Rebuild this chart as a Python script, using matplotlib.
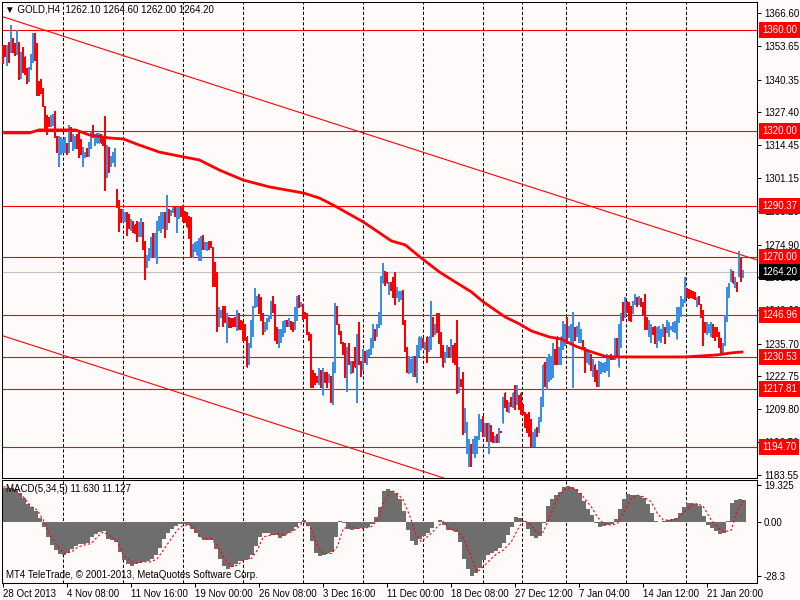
import numpy as np
import matplotlib
matplotlib.use('Agg')
import matplotlib.pyplot as plt
import matplotlib.transforms as mtransforms

plt.rcParams['font.family'] = ['Liberation Sans', 'DejaVu Sans']
plt.rcParams['font.size'] = 7

# GOLD H4 bars (one per 4 hours), high / low
highs = [
    1353.7, 1353.7, 1353.7, 1354.9, 1361.6, 1356.8, 1354.5, 1360.0, 1354.9, 1350.9,
    1352.9, 1349.3, 1344.9, 1345.3, 1350.1, 1358.8, 1358.8, 1354.5, 1339.4, 1340.2,
    1337.0, 1329.5, 1326.3, 1325.5, 1326.3, 1326.7, 1327.5, 1317.6, 1317.6, 1317.2,
    1316.4, 1317.2, 1315.2, 1322.3, 1321.2, 1318.4, 1317.6, 1318.4, 1319.2, 1316.4,
    1313.6, 1311.6, 1313.2, 1315.6, 1319.2, 1322.0, 1318.4, 1318.8, 1318.8, 1318.4,
    1317.6, 1325.9, 1314.4, 1313.6, 1309.7, 1311.3, 1313.2, 1296.6, 1292.6, 1288.7,
    1288.7, 1287.5, 1287.5, 1286.7, 1284.7, 1283.9, 1282.7, 1283.9, 1283.5, 1285.1,
    1283.5, 1276.0, 1270.8, 1273.2, 1277.6, 1279.5, 1279.5, 1283.9, 1285.9, 1287.5,
    1287.5, 1287.5, 1294.2, 1288.7, 1288.3, 1289.8, 1289.8, 1289.8, 1289.8, 1289.8,
    1290.6, 1287.9, 1287.5, 1285.9,
    1285.5, 1274.8, 1275.6, 1276.0, 1277.2, 1278.0, 1278.7, 1275.6, 1275.6, 1276.0,
    1276.0, 1273.6, 1268.0, 1263.7, 1249.8, 1249.0, 1250.2, 1250.2, 1247.8, 1246.2,
    1245.8, 1245.8, 1246.2, 1249.0, 1247.8, 1245.0, 1244.3, 1243.1, 1238.3, 1235.9,
    1245.0, 1250.2, 1257.7, 1254.2, 1255.0, 1253.8, 1247.8, 1243.9, 1245.8, 1247.0,
    1252.2, 1254.2, 1251.0, 1241.9, 1241.1, 1241.1, 1244.3, 1245.0, 1245.0, 1245.8,
    1244.3, 1243.9, 1249.8, 1254.2, 1254.6, 1251.8, 1251.0, 1248.2, 1247.8, 1239.9,
    1239.1, 1225.2, 1224.0, 1222.5, 1226.0, 1225.2, 1226.0, 1224.4, 1224.4, 1223.3,
    1222.5, 1228.0, 1251.4, 1250.2, 1243.1, 1240.3, 1236.3, 1235.9, 1234.3, 1235.9,
    1228.4, 1228.4, 1234.0, 1239.1, 1243.9, 1228.4, 1233.2, 1232.4, 1232.8, 1233.2,
    1237.9, 1243.1,
    1241.1, 1243.1, 1248.2, 1262.1, 1267.6, 1264.1, 1263.7, 1260.1, 1260.1, 1261.7,
    1263.7, 1258.1, 1256.2, 1256.2, 1256.9, 1245.0, 1234.0, 1230.4, 1229.2, 1230.4,
    1230.4, 1235.1, 1238.3, 1238.3, 1237.9, 1236.3, 1238.3, 1238.3, 1252.2, 1246.2,
    1243.1, 1247.8, 1247.8, 1239.9, 1235.1, 1232.0, 1235.1, 1234.0, 1237.5, 1235.1,
    1235.9, 1245.0, 1226.4, 1221.3, 1224.4, 1209.8, 1204.6, 1197.5, 1195.5, 1197.5,
    1198.7, 1198.7, 1207.4, 1205.4, 1206.6, 1204.2, 1204.2, 1204.2, 1203.4, 1200.3,
    1198.7, 1199.5, 1202.2, 1200.7, 1214.5, 1216.1, 1213.3, 1212.2, 1214.5, 1216.1,
    1218.9, 1218.9, 1215.3, 1216.1, 1211.4, 1208.2, 1207.4, 1208.2, 1205.4, 1200.3,
    1201.5, 1202.6, 1206.2, 1214.5, 1227.2, 1228.0, 1230.0, 1231.2, 1230.4, 1235.9,
    1233.2, 1238.3, 1234.3, 1238.3,
    1244.3, 1243.1, 1246.2, 1242.3, 1243.1, 1248.2, 1241.9, 1242.3, 1243.9, 1241.1,
    1237.1, 1234.0, 1233.2, 1232.4, 1231.2, 1229.2, 1227.2, 1225.2, 1228.4, 1228.0,
    1227.6, 1228.0, 1231.2, 1230.8, 1231.2, 1230.4, 1237.9, 1237.9, 1243.1, 1247.8,
    1251.8, 1253.8, 1252.2, 1251.8, 1250.2, 1252.2, 1255.0, 1253.8, 1254.2, 1253.4,
    1251.8, 1255.0, 1246.2, 1245.0, 1243.1, 1241.9, 1242.3, 1241.9, 1242.3, 1241.1,
    1243.1, 1241.9, 1245.0, 1243.9, 1242.3, 1243.9, 1244.3, 1249.8, 1249.8, 1254.2,
    1253.0, 1261.7, 1257.7, 1257.3, 1256.9, 1256.2, 1255.8, 1253.8, 1254.2, 1251.0,
    1249.0, 1243.9, 1243.9, 1243.1, 1243.9, 1243.1, 1241.9, 1241.9, 1239.9, 1237.9,
    1235.9, 1247.0, 1258.1, 1259.7, 1264.9, 1264.1, 1261.7, 1260.1, 1272.0, 1270.0,
    1264.6,
]
lows = [
    1346.9, 1349.3, 1346.1, 1347.3, 1350.9, 1350.9, 1349.7, 1350.1, 1340.2, 1340.6,
    1343.0, 1342.2, 1338.6, 1339.4, 1344.2, 1347.3, 1348.1, 1334.2, 1334.2, 1335.0,
    1329.5, 1320.4, 1318.4, 1321.6, 1321.6, 1322.3, 1317.2, 1311.6, 1305.7, 1310.5,
    1311.3, 1311.6, 1310.5, 1311.6, 1315.6, 1312.4, 1313.2, 1313.2, 1309.3, 1310.5,
    1305.7, 1309.3, 1309.7, 1309.7, 1313.2, 1317.2, 1314.4, 1315.2, 1315.2, 1315.2,
    1314.4, 1296.2, 1301.7, 1303.7, 1305.7, 1307.3, 1305.7, 1289.8, 1280.3, 1283.5,
    1283.9, 1283.9, 1278.7, 1281.5, 1280.7, 1279.9, 1279.5, 1276.0, 1278.0, 1278.0,
    1272.8, 1260.9, 1265.7, 1268.8, 1270.0, 1270.0, 1270.0, 1267.6, 1280.7, 1279.9,
    1281.5, 1277.6, 1281.1, 1283.5, 1286.3, 1287.5, 1285.9, 1279.9, 1285.1, 1285.9,
    1283.9, 1283.5, 1281.9, 1277.2,
    1270.0, 1270.0, 1272.0, 1270.8, 1268.8, 1268.8, 1272.8, 1272.8, 1272.4, 1272.8,
    1273.6, 1258.5, 1258.5, 1240.3, 1242.3, 1246.2, 1242.3, 1243.9, 1236.3, 1241.9,
    1241.9, 1242.3, 1242.3, 1240.7, 1241.1, 1241.1, 1237.1, 1237.1, 1226.4, 1227.2,
    1234.0, 1238.3, 1249.8, 1250.2, 1247.8, 1245.0, 1239.1, 1240.3, 1241.1, 1244.3,
    1245.8, 1248.2, 1237.1, 1235.9, 1234.3, 1236.3, 1238.3, 1239.9, 1242.3, 1242.3,
    1241.1, 1240.3, 1241.1, 1245.0, 1249.8, 1250.2, 1245.4, 1245.8, 1239.1, 1237.1,
    1218.1, 1218.1, 1219.3, 1220.1, 1219.3, 1218.1, 1215.3, 1220.1, 1218.1, 1220.1,
    1212.2, 1211.4, 1224.4, 1243.1, 1239.1, 1235.9, 1231.2, 1222.1, 1216.5, 1227.2,
    1224.0, 1224.4, 1226.4, 1212.5, 1227.2, 1222.5, 1225.2, 1228.0, 1227.2, 1230.4,
    1231.2, 1234.3,
    1237.1, 1238.3, 1241.9, 1243.1, 1259.7, 1258.9, 1259.7, 1255.0, 1256.9, 1253.8,
    1251.0, 1253.8, 1252.2, 1253.0, 1243.1, 1232.4, 1224.4, 1224.0, 1224.4, 1222.5,
    1222.5, 1220.1, 1230.4, 1233.2, 1234.0, 1233.2, 1228.0, 1232.4, 1233.2, 1238.3,
    1239.1, 1239.9, 1235.9, 1230.0, 1226.4, 1228.0, 1230.0, 1230.0, 1230.0, 1228.0,
    1227.2, 1215.7, 1216.1, 1218.5, 1199.5, 1200.3, 1192.3, 1186.8, 1186.8, 1192.3,
    1190.7, 1192.3, 1197.5, 1200.7, 1198.7, 1198.7, 1196.7, 1192.3, 1196.7, 1196.3,
    1196.3, 1196.3, 1196.3, 1200.3, 1204.2, 1210.2, 1208.6, 1208.2, 1210.6, 1210.2,
    1209.4, 1211.4, 1209.4, 1207.4, 1207.4, 1202.6, 1200.3, 1198.7, 1194.7, 1194.7,
    1194.7, 1198.7, 1200.3, 1204.6, 1210.6, 1218.5, 1217.3, 1220.5, 1221.3, 1222.1,
    1227.2, 1227.2, 1227.2, 1227.2,
    1233.2, 1235.1, 1235.9, 1237.9, 1236.3, 1218.1, 1237.1, 1238.3, 1236.3, 1236.3,
    1233.2, 1224.4, 1228.0, 1227.2, 1225.2, 1222.5, 1220.5, 1218.5, 1218.5, 1224.0,
    1224.8, 1224.4, 1225.2, 1222.5, 1229.2, 1229.2, 1229.2, 1230.4, 1226.4, 1234.0,
    1245.0, 1246.2, 1248.2, 1245.0, 1244.3, 1247.8, 1251.0, 1250.2, 1251.0, 1250.2,
    1247.0, 1241.1, 1241.1, 1238.3, 1236.3, 1239.1, 1235.9, 1234.0, 1237.1, 1236.3,
    1238.3, 1235.9, 1239.9, 1238.3, 1241.1, 1240.3, 1239.9, 1237.5, 1243.9, 1246.6,
    1250.2, 1251.8, 1253.8, 1253.4, 1253.8, 1253.4, 1253.0, 1250.2, 1251.0, 1246.2,
    1235.1, 1239.9, 1239.1, 1239.9, 1238.3, 1237.9, 1237.1, 1238.3, 1234.3, 1232.0,
    1231.2, 1235.1, 1244.3, 1253.8, 1260.1, 1259.7, 1258.1, 1256.2, 1262.1, 1260.1,
    1262.0,
]
# r = bear bar, b = bull bar
bar_dir = (
    "rrbrbrrbrb" "rrrbbbrrrr" "rrrrbbrrbb" "bbrbrbbrrr" "bbrbbrbbbr"
    "rrbrbbbrrr" "bbrrbrrrbb" "rrbbbrbbbb" "brbrbbrbbr" "rrrr"
    "rbbbbbrbbr" "rrrrbbrrbr" "rrrbrrrrrb" "bbbbrrrbbb" "brrrbbbbrb"
    "rrbbrbrrrr" "rrrrbrbrrb" "rbbrrrrrbr" "brrbrrbrbb" "bb"
    "rbbbbrrbrr" "rbbbrrrbbb" "rbbbrbrbbr" "brrrrbbrbr" "rrbrrbbbrb"
    "bbbbrbrbrr" "brbrbrrbrb" "rbrrrrrrrb" "brbbbrbbbb" "rrbb"
    "bbrbbbrbbb" "rrbbrbrrbb" "bbbbrrbrbb" "rbrrrbbrbr" "rrrbbrrbbb"
    "brbbbbbbbb" "bbrrrrrbrr" "rrbbbrrrrr" "bbbbbrbrbr" "b"
)

# moving average, read at these bars
ma_bar = [0, 13, 18, 36, 43, 53, 60, 68, 78, 90, 98, 108, 120, 133, 150, 158,
          165, 171, 180, 186, 194, 201, 209, 218, 226, 234, 240, 251, 258, 264,
          273, 279, 286, 294, 302, 327, 341, 349, 357, 364, 370]
ma_val = [1319.2, 1319.2, 1320.4, 1320.4, 1318.4, 1317.2, 1316.8, 1314.4, 1311.6,
          1309.7, 1308.5, 1304.5, 1300.5, 1297.8, 1295.4, 1293.4, 1290.6, 1287.9,
          1283.9, 1280.7, 1276.4, 1274.8, 1269.6, 1264.1, 1260.1, 1256.2, 1252.2,
          1246.2, 1243.5, 1240.7, 1238.3, 1237.5, 1234.7, 1232.4, 1230.4, 1230.4,
          1230.4, 1230.8, 1231.2, 1232.0, 1232.4]

levels = [1360.00, 1320.00, 1290.37, 1270.00, 1246.96, 1230.53, 1217.81, 1194.70]
last_price = 1264.20
header = "\u25bc GOLD,H4  1262.10 1264.60 1262.00 1264.20"

# descending channel: bar index -> price
channel_bars = [0, 377]
channel_top = [1365.2, 1268.8]
channel_bottom = [1238.7, 1142.3]

price_ticks = [1366.60, 1353.65, 1340.35, 1327.40, 1314.45, 1301.15, 1288.20,
               1274.90, 1261.95, 1249.00, 1235.70, 1222.75, 1209.80, 1196.50, 1183.55]

grid_bars = [29.85, 59.85, 89.85, 119.85, 149.85, 179.85, 209.85, 239.85,
             259.35, 281.35, 311.35, 341.35]
date_bars = [0, 32, 64, 96, 128, 160, 192, 224, 256, 288, 320, 352]
date_labels = ["28 Oct 2013", "4 Nov 08:00", "11 Nov 16:00", "19 Nov 00:00",
               "26 Nov 08:00", "3 Dec 16:00", "11 Dec 00:00", "18 Dec 08:00",
               "27 Dec 12:00", "7 Jan 04:00", "14 Jan 12:00", "21 Jan 20:00"]

# MACD(5,34,5) histogram, one value per two bars
macd_hist = [
    17.6, 17.6, 17.6, 17.1, 15.3, 12.5, 9.5, 8.0, 5.9, 2.0,
    -2.7, -8.1, -12.0, -14.8, -16.9, -17.4, -16.4, -14.4, -12.7, -11.8,
    -11.6, -10.9, -8.1, -6.2, -5.3, -4.5, -8.7, -9.4, -10.4, -15.8,
    -19.7, -22.1, -23.0, -22.3, -21.6, -20.9, -20.4, -19.5, -17.4, -13.4,
    -9.0, -5.9, -3.9, -2.2, -1.3, -1.1, -1.5, -3.9, -6.0, -8.1,
    -9.5, -9.2, -9.5, -14.4, -19.2, -23.2, -24.4, -23.5, -22.0, -20.4,
    -19.7, -19.2, -17.2, -12.7, -8.0, -6.0, -6.0, -6.7, -6.9, -8.5,
    -7.1, -6.0, -4.6, -2.5, -0.4, 1.0, -2.2, -9.9, -16.2, -17.8,
    -17.4, -16.5, -15.5, -7.8, 0.6, -0.6, -3.6, -4.3, -3.8, -3.4,
    -3.4, -2.7, -1.0, 2.4, 8.0, 16.0, 17.4, 16.4, 15.0, 12.3,
    5.9, -4.1, -10.2, -12.0, -9.0, -7.1, -5.9, -3.4, 0.1, 1.0,
    -1.5, -4.3, -4.3, -5.5, -10.6, -19.2, -24.9, -28.4, -27.0, -24.2,
    -19.7, -17.2, -16.4, -15.3, -13.6, -10.8, -6.6, -2.5, 2.7, 2.0,
    0.3, -3.8, -7.4, -8.3, -7.1, -0.6, 8.3, 12.2, 14.3, 15.5,
    18.1, 18.8, 18.1, 17.1, 15.0, 10.9, 6.7, 3.4, -0.6, -2.4,
    -2.2, -1.7, -1.0, 1.3, 6.7, 11.8, 14.8, 14.1, 14.1, 13.7,
    12.5, 9.4, 4.6, 0.3, -0.1, 0.6, 1.0, 1.3, 2.0, 4.5,
    7.6, 10.2, 10.1, 9.5, 8.3, 3.2, -1.8, -3.2, -4.6, -6.4,
    -6.0, 0.3, 10.1, 11.3, 12.2, 11.6,
]
sig_bar = [0, 5, 10, 14, 17, 20, 24, 27, 30, 34,
           37, 40, 44, 47, 50, 54, 57, 60, 64, 67,
           70, 74, 77, 80, 84, 87, 90, 94, 97, 100,
           104, 107, 110, 114, 117, 120, 124, 127, 130, 134,
           137, 140, 144, 147, 150, 154, 157, 160, 164, 167,
           170, 174, 177, 180, 184, 187, 190, 194, 197, 200,
           204, 206, 209, 214, 217, 220, 224, 227, 230, 234,
           237, 240, 244, 247, 250, 254, 257, 260, 264, 267,
           270, 274, 277, 280, 284, 287, 290, 294, 297, 300,
           304, 307, 310, 314, 317, 320, 324, 327, 330, 334,
           337, 340, 344, 347, 350, 354, 357, 360, 364, 367,
           370]
sig_val = [18.5, 17.1, 13.2, 8.0, 6.2, 1.0, -7.8, -12.2, -16.5, -15.7,
           -13.4, -12.2, -11.3, -7.8, -5.2, -7.8, -10.4, -17.4, -20.9, -21.4,
           -20.9, -20.9, -19.2, -14.8, -8.7, -4.3, -1.7, -1.7, -6.0, -8.7,
           -8.7, -12.2, -18.3, -23.5, -22.7, -20.0, -19.2, -14.8, -7.8, -6.9,
           -6.0, -6.9, -5.2, -3.4, 0.1, -3.4, -12.2, -16.5, -16.5, -13.0,
           -3.4, -2.5, -3.4, -3.4, -2.5, 1.0, 9.7, 16.7, 15.0, 11.5,
           1.0, -6.0, -10.4, -6.0, -2.5, 0.1, -4.3, -4.3, -8.7, -18.3,
           -26.2, -23.5, -19.2, -16.5, -14.8, -10.4, -4.3, 1.0, -1.7, -6.0,
           -5.2, 4.5, 12.3, 16.7, 18.1, 16.7, 13.2, 8.0, 2.7, -0.8,
           -1.7, -0.8, 4.5, 12.3, 14.1, 13.2, 10.6, 4.5, 1.0, 1.0,
           1.3, 4.5, 8.8, 9.7, 8.0, 1.0, -2.5, -5.2, -4.3, 6.2,
           11.1]
macd_text = "MACD(5,34,5) 11.630 11.127"
copyright_text = "MT4 TeleTrade, \u00a9 2001-2013, MetaQuotes Software Corp."

BG = '#fffafa'
RED = '#ff0000'
BLUE = '#3a8ee6'

fig = plt.figure(figsize=(8, 6), dpi=100, facecolor=BG)
ax = fig.add_axes([2 / 800, 122 / 600, 755 / 800, 476 / 600], facecolor=BG)
ax2 = fig.add_axes([2 / 800, 17 / 600, 755 / 800, 103 / 600], facecolor=BG, sharex=ax)

# price bars, drawn as 1px wide rectangles (no snapping, no antialiasing)
x = np.arange(len(highs))
hi = np.array(highs)
lo = np.array(lows)
colors = [RED if c == 'r' else BLUE for c in bar_dir]
bars = ax.bar(x, hi - lo, bottom=lo, width=0.55, color=colors, linewidth=0,
              antialiased=False, zorder=3)
for b in bars:
    b.set_snap(False)

ax.plot(ma_bar, ma_val, color=RED, lw=2.0, solid_capstyle='butt', zorder=4)
for lv in levels:
    ax.axhline(lv, color=RED, lw=0.8, zorder=2)
ax.axhline(last_price, color='#c0c0c0', lw=0.8, zorder=1)
ax.plot(channel_bars, channel_top, color=RED, lw=0.8, zorder=2)
ax.plot(channel_bars, channel_bottom, color=RED, lw=0.8, zorder=2)

for a in (ax, ax2):
    for g in grid_bars:
        a.axvline(g, color='black', lw=0.75, ls=(0, (3, 2)), zorder=1.5)
    for s in a.spines.values():
        s.set_linewidth(0.75)
    a.yaxis.tick_right()
    a.tick_params(axis='y', length=3, width=0.75, pad=2, labelsize=7)

ax.set_xlim(-0.65, 376.85)
ax.set_ylim(1182.4, 1371.1)
ax.set_yticks(price_ticks, [f'{p:.2f}' for p in price_ticks])
ax.tick_params(axis='x', bottom=False, labelbottom=False)

trans = mtransforms.offset_copy(
    mtransforms.blended_transform_factory(ax.transAxes, ax.transData),
    fig=fig, x=5, y=0, units='dots')
for lv in levels:
    ax.text(1.0, lv, f'{lv:.2f}', transform=trans, ha='left', va='center',
            color='white', fontsize=7, zorder=10, clip_on=False,
            bbox=dict(boxstyle='square,pad=0.3', fc=RED, ec='none'))
ax.text(1.0, last_price, f'{last_price:.2f}', transform=trans, ha='left', va='center',
        color='white', fontsize=7, zorder=10, clip_on=False,
        bbox=dict(boxstyle='square,pad=0.3', fc='black', ec='none'))

fig.text(5 / 800, 1 - 10 / 600, header, ha='left', va='center', fontsize=7)

# MACD panel
hx = np.arange(len(macd_hist)) * 2 + 0.5
ax2.bar(hx, macd_hist, width=2, color='#6e6e6e', linewidth=0, antialiased=False, zorder=2)
ax2.plot(sig_bar, sig_val, color=RED, lw=0.8, ls=(0, (2, 2)), zorder=3)
ax2.set_ylim(-32, 22)
ax2.set_yticks([19.325, 0, -28.3], ['19.325', '0.00', '-28.3'])
ax2.set_xticks(date_bars, date_labels)
ax2.tick_params(axis='x', direction='out', length=3, width=0.75, pad=1, labelsize=7)
for t in ax2.get_xticklabels():
    t.set_ha('left')

fig.text(6 / 800, 1 - 489 / 600, macd_text, ha='left', va='center', fontsize=7)
fig.text(6 / 800, 1 - 575 / 600, copyright_text, ha='left', va='center', fontsize=7)

fig.savefig('out.png', dpi=100, facecolor=BG)
